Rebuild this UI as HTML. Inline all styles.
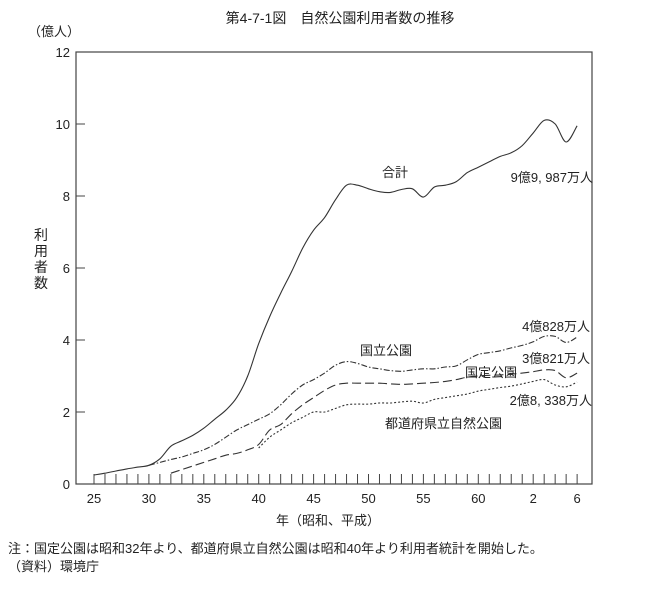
<!DOCTYPE html>
<html><head><meta charset="utf-8"><style>
body{margin:0;background:#fff;}
svg text{font-family:"Liberation Sans","Noto Sans CJK JP",sans-serif;fill:#222;}
</style></head><body>
<svg width="651" height="585" viewBox="0 0 651 585" xmlns="http://www.w3.org/2000/svg">
<text x="340" y="23" font-size="14" text-anchor="middle">第4-7-1図　自然公園利用者数の推移</text>
<text x="28" y="36" font-size="13">（億人）</text>
<g id="ylabels"></g>
<text x="40" y="230" font-size="14"><tspan x="34" y="240">利</tspan><tspan x="34" y="256">用</tspan><tspan x="34" y="272">者</tspan><tspan x="34" y="288">数</tspan></text>
<rect x="76" y="52" width="516" height="432" fill="none" stroke="#444" stroke-width="1.2"/>
<g id="ticks"></g>
<g id="series"></g>
<text x="328" y="525" font-size="13" text-anchor="middle">年（昭和、平成）</text>
<text x="382" y="177" font-size="13">合計</text>
<text x="593" y="182" font-size="13" text-anchor="end">9億9, 987万人</text>
<text x="360" y="355" font-size="13">国立公園</text>
<text x="590" y="331" font-size="13" text-anchor="end">4億828万人</text>
<text x="465" y="377" font-size="13">国定公園</text>
<text x="590" y="363" font-size="13" text-anchor="end">3億821万人</text>
<text x="385" y="428" font-size="13">都道府県立自然公園</text>
<text x="592" y="405" font-size="13" text-anchor="end">2億8, 338万人</text>
<text x="8" y="553" font-size="13">注：国定公園は昭和32年より、都道府県立自然公園は昭和40年より利用者統計を開始した。</text>
<text x="8" y="571" font-size="13">（資料）環境庁</text>
</svg>
<script>
const years=[25,26,27,28,29,30,31,32,33,34,35,36,37,38,39,40,41,42,43,44,45,46,47,48,49,50,51,52,53,54,55,56,57,58,59,60,61,62,63,64,65,66,67,68,69];
const xTickLabels=["25","30","35","40","45","50","55","60","2","6"];
const xTickYears=[25,30,35,40,45,50,55,60,65,69];
const yTicks=[0,2,4,6,8,10,12];
const total=[0.25,0.3,0.36,0.42,0.47,0.52,0.7,1.05,1.2,1.35,1.55,1.8,2.05,2.4,3.0,3.9,4.65,5.3,5.9,6.55,7.05,7.4,7.9,8.3,8.3,8.2,8.12,8.1,8.18,8.2,7.97,8.25,8.3,8.4,8.65,8.8,8.95,9.1,9.2,9.4,9.75,10.1,10.0,9.5,9.95];
const national=[null,null,null,null,null,0.52,0.6,0.68,0.75,0.85,0.95,1.1,1.3,1.5,1.65,1.8,1.95,2.2,2.5,2.75,2.9,3.08,3.3,3.4,3.35,3.25,3.2,3.15,3.13,3.17,3.2,3.2,3.25,3.28,3.45,3.6,3.65,3.7,3.78,3.85,3.95,4.1,4.1,3.93,4.08];
const quasi=[null,null,null,null,null,null,null,0.3,0.4,0.5,0.6,0.7,0.8,0.85,0.95,1.1,1.5,1.65,1.95,2.2,2.4,2.6,2.75,2.8,2.8,2.8,2.8,2.78,2.77,2.78,2.8,2.82,2.85,2.9,2.97,3.0,3.02,3.03,3.05,3.08,3.12,3.17,3.15,2.95,3.08];
const prefectural=[null,null,null,null,null,null,null,null,null,null,null,null,null,null,null,1.0,1.3,1.5,1.7,1.85,2.0,2.0,2.1,2.2,2.22,2.22,2.25,2.25,2.28,2.3,2.25,2.35,2.4,2.45,2.5,2.58,2.63,2.68,2.72,2.78,2.85,2.9,2.75,2.7,2.83];
const NS="http://www.w3.org/2000/svg";
function xs(yr){return 94+(yr-25)*10.98;}
function ys(v){return 484-v*36;}
const tg=document.getElementById('ticks');
years.forEach(function(yr){
  const l=document.createElementNS(NS,'line');
  l.setAttribute('x1',xs(yr));l.setAttribute('x2',xs(yr));l.setAttribute('y1',474);l.setAttribute('y2',484);
  l.setAttribute('stroke','#444');
  
  
  tg.appendChild(l);
});
xTickLabels.forEach(function(lb,i){
  const t=document.createElementNS(NS,'text');
  t.setAttribute('x',xs(xTickYears[i]));t.setAttribute('y',503);t.setAttribute('font-size','13');t.setAttribute('text-anchor','middle');
  t.textContent=lb;
  
  
  tg.appendChild(t);
});
const yg=document.getElementById('ylabels');
yTicks.forEach(function(v){
  const t=document.createElementNS(NS,'text');
  t.setAttribute('x',70);t.setAttribute('y',ys(v)+5);t.setAttribute('font-size','13');t.setAttribute('text-anchor','end');
  t.textContent=v;
  
  
  yg.appendChild(t);
  if(v>0&&v<12){
    const l=document.createElementNS(NS,'line');
    l.setAttribute('x1',76);l.setAttribute('x2',85);l.setAttribute('y1',ys(v));l.setAttribute('y2',ys(v));
    l.setAttribute('stroke','#444');
    
    
    yg.appendChild(l);
  }
});
const sg=document.getElementById('series');
function draw(arr,dash,name){
  const pts=[];
  arr.forEach(function(v,i){ if(v!==null) pts.push([xs(years[i]),ys(v)]); });
  let d='M'+pts[0][0].toFixed(1)+','+pts[0][1].toFixed(1);
  for(let i=0;i<pts.length-1;i++){
    const p0=pts[Math.max(i-1,0)],p1=pts[i],p2=pts[i+1],p3=pts[Math.min(i+2,pts.length-1)];
    const c1x=p1[0]+(p2[0]-p0[0])/6,c1y=p1[1]+(p2[1]-p0[1])/6;
    const c2x=p2[0]-(p3[0]-p1[0])/6,c2y=p2[1]-(p3[1]-p1[1])/6;
    d+='C'+c1x.toFixed(1)+','+c1y.toFixed(1)+' '+c2x.toFixed(1)+','+c2y.toFixed(1)+' '+p2[0].toFixed(1)+','+p2[1].toFixed(1);
  }
  const p=document.createElementNS(NS,'path');
  p.setAttribute('d',d);p.setAttribute('fill','none');p.setAttribute('stroke','#333');p.setAttribute('stroke-width','1.1');
  if(dash)p.setAttribute('stroke-dasharray',dash);
  
  
  sg.appendChild(p);
}
draw(total,null,'line-total');
draw(national,'6,2,1.5,2','line-national');
draw(quasi,'9,4','line-quasi');
draw(prefectural,'2,2','line-prefectural');
</script>
</body></html>
